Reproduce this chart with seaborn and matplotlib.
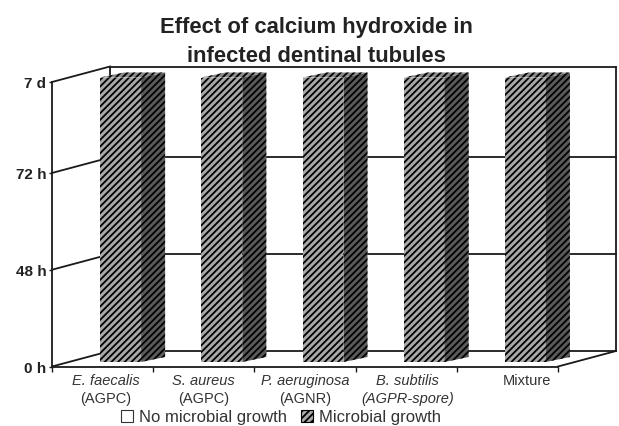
import matplotlib
matplotlib.use("Agg")
import matplotlib.pyplot as plt
import seaborn as sns
import pandas as pd
from matplotlib.patches import Patch, Polygon

# ── data ──────────────────────────────────────────────────────────────────────

species = ["E. faecalis", "S. aureus", "P. aeruginosa", "B. subtilis", "Mixture"]
gram_type = ["(AGPC)", "(AGPC)", "(AGNR)", "(AGPR-spore)", ""]
gram_italic = [False, False, False, True, False]
# position on the time axis: 0 h, 48 h, 72 h, 7 d
growth = [2.94, 2.94, 2.94, 2.94, 2.94]
time_ticks = [0, 1, 2, 2.94]
time_labels = ["0 h", "48 h", "72 h", "7 d"]

df = pd.DataFrame({"species": species, "growth": growth})

# ── layout, in pixels of the 619x427 picture ──────────────────────────────────

W, H = 619, 427
LEFT, RIGHT, TOP, BOTTOM = 52, 558, 83, 367.5
px_x = 5 / (RIGHT - LEFT)
px_y = 2.94 / (BOTTOM - TOP)
back_x, back_y = 58 * px_x, 15.5 * px_y      # floor depth
bar_x, bar_y = 18 * px_x, 4.5 * px_y         # where the bar fronts sit
side_x, side_y = 24 * px_x, 5 * px_y         # depth of a bar
HATCH = "/////"

sns.set_style("white")
plt.rcParams["font.family"] = ["Liberation Sans", "DejaVu Sans"]
plt.rcParams["hatch.linewidth"] = 1.3

fig = plt.figure(figsize=(W / 100, H / 100), dpi=100)
ax = fig.add_axes([LEFT / W, 1 - BOTTOM / H, (RIGHT - LEFT) / W, (BOTTOM - TOP) / H])

sns.barplot(data=df, x="species", y="growth", ax=ax, width=0.405, color="#a8a8a8",
            saturation=1, edgecolor="black", linewidth=0, hatch=HATCH, zorder=3)
ax.set_xlim(-0.5, 4.5)
ax.set_ylim(0, 2.94)

# push the bars back into the box and give them a side and a top
for patch in list(ax.patches):
    patch.set_x(patch.get_x() + bar_x)
    patch.set_y(bar_y)
    patch.set_clip_on(False)
    x0, x1 = patch.get_x(), patch.get_x() + patch.get_width()
    y0, y1 = bar_y, bar_y + patch.get_height()
    side = Polygon([(x1, y0), (x1 + side_x, y0 + side_y), (x1 + side_x, y1 + side_y), (x1, y1)],
                   facecolor="#5a5a5a", edgecolor="black", linewidth=0, hatch=HATCH,
                   zorder=3, clip_on=False)
    top = Polygon([(x0, y1), (x0 + side_x, y1 + side_y), (x1 + side_x, y1 + side_y), (x1, y1)],
                  facecolor="#8a8a8a", edgecolor="black", linewidth=0, hatch=HATCH,
                  zorder=3, clip_on=False)
    ax.add_patch(side)
    ax.add_patch(top)

# ── the box: walls, floor and gridlines ───────────────────────────────────────

line = dict(color="#1a1a1a", lw=1.3, clip_on=False, zorder=1, solid_capstyle="projecting")
x_l, x_r = -0.5, 4.5
for t in time_ticks:
    ax.plot([x_l, x_l + back_x], [t, t + back_y], **line)
    ax.plot([x_l + back_x, x_r + back_x], [t + back_y, t + back_y], **line)
ax.plot([x_r, x_r + back_x], [0, back_y], **line)
ax.plot([x_r + back_x, x_r + back_x], [back_y, 2.94 + back_y], **line)
ax.plot([x_l + back_x, x_l + back_x], [back_y, 2.94 + back_y], **line)

for s in ["top", "right"]:
    ax.spines[s].set_visible(False)
for s in ["left", "bottom"]:
    ax.spines[s].set_color("#1a1a1a")
    ax.spines[s].set_linewidth(1.3)
    ax.spines[s].set_visible(True)

# ── ticks and labels ──────────────────────────────────────────────────────────

ax.set_xlabel("")
ax.set_ylabel("")
ax.set_xticks([i - 0.5 for i in range(6)])
ax.set_xticklabels([])
ax.set_yticks(time_ticks)
ax.set_yticklabels(time_labels, fontsize=11, fontweight="bold", color="#222222")
ax.tick_params(axis="x", bottom=True, length=3.5, width=1, color="#1a1a1a")
ax.tick_params(axis="y", left=True, length=2, width=1, color="#1a1a1a", pad=2)

# species names sit a little off the category centres in the original
label_nudge = [3, 0, 0, 1, 20]
for i, (name, gram, ital) in enumerate(zip(species, gram_type, gram_italic)):
    is_mix = name == "Mixture"
    ax.annotate(name, (i, 0), xytext=(label_nudge[i] * 0.72, -5), textcoords="offset points",
                ha="center", va="top", fontsize=10.5, color="#333333",
                style="normal" if is_mix else "italic", annotation_clip=False)
    if gram:
        ax.annotate(gram, (i, 0), xytext=(label_nudge[i] * 0.72, -18), textcoords="offset points",
                    ha="center", va="top", fontsize=10.5, color="#333333",
                    style="italic" if ital else "normal", annotation_clip=False)

fig.text(316 / W, 1 - 42 / H, "Effect of calcium hydroxide in\ninfected dentinal tubules",
         ha="center", va="center", fontsize=15.8, fontweight="bold", color="#222222",
         linespacing=1.5)

handles = [
    Patch(facecolor="white", edgecolor="#333333", linewidth=0.8, label="No microbial growth"),
    Patch(facecolor="#a8a8a8", edgecolor="black", linewidth=0.8, hatch="/////", label="Microbial growth"),
]
fig.legend(handles=handles, loc="center", bbox_to_anchor=(281 / W, 1 - 418 / H), ncol=2,
           frameon=False, fontsize=12, handlelength=0.75, handleheight=0.75, handletextpad=0.35,
           columnspacing=0.8, labelcolor="#333333", borderpad=0)

fig.savefig("out.png", dpi=100)
plt.close(fig)
